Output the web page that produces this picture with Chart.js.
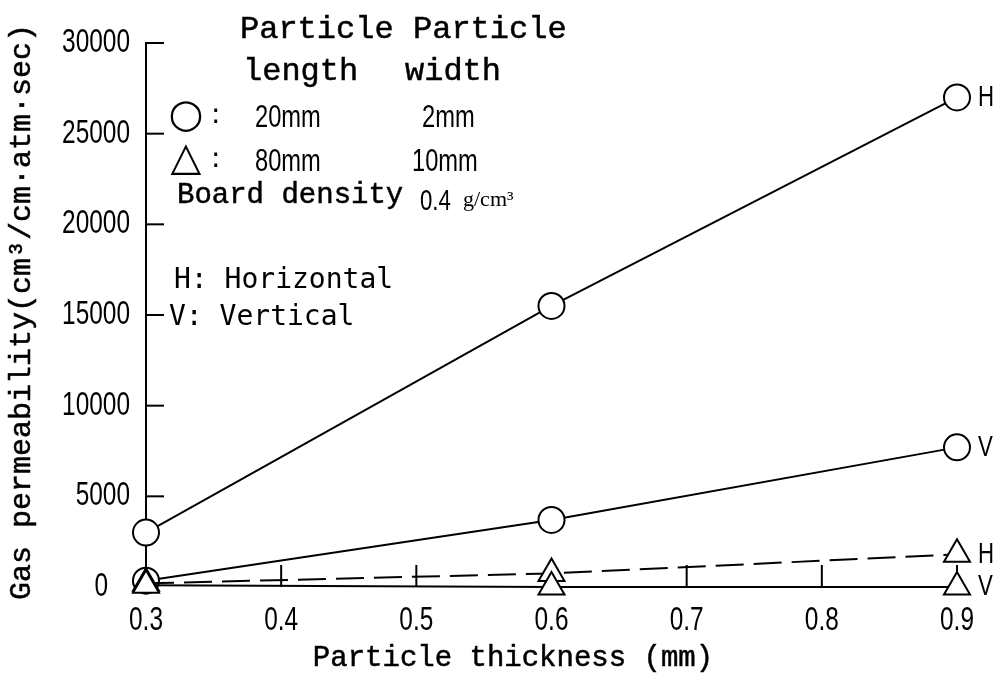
<!DOCTYPE html>
<html>
<head>
<meta charset="utf-8">
<script src="https://cdn.jsdelivr.net/npm/chart.js@4"></script>
<style>
  html, body { margin: 0; padding: 0; background: #fff; }
  #wrap { width: 1000px; height: 680px; position: relative; }
</style>
</head>
<body>
<div id="wrap"><canvas id="permChart"></canvas></div>
<script>
// values
const thickness = [0.3, 0.6, 0.9];
const circleH = [3000, 15500, 27000];
const circleV = [350, 3700, 7700];
const triangleH = [200, 750, 1800];
const triangleV = [100, 0, 0];
const endLabels = ['H', 'V', 'H', 'V'];

const mono = "'Liberation Mono', monospace";

function pts(ys) {
    return thickness.map((x, i) => ({ x: x, y: ys[i] }));
}

function text(ctx, str, x, y, font, align, weight) {
    ctx.font = font;
    ctx.textAlign = align || 'left';
    ctx.textBaseline = 'middle';
    ctx.fillText(str, x, y);
    if (weight) {
        // a little heavier than the regular face, like the scanned type
        ctx.lineWidth = weight;
        ctx.strokeStyle = '#000';
        ctx.strokeText(str, x, y);
    }
}

// tall narrow digits like the original typesetting
function narrowText(ctx, str, x, y, size, align, sx) {
    sx = sx || 0.74;
    ctx.save();
    ctx.translate(x, y);
    ctx.scale(sx, 1);
    text(ctx, str, 0, 0, size + 'px Liberation Sans', align);
    ctx.restore();
}

const figurePlugin = {
    id: 'figure',
    beforeDatasetsDraw(chart) {
        // inward tick marks
        const ctx = chart.ctx;
        const xs = chart.scales.x, ys = chart.scales.y;
        ctx.save();
        ctx.strokeStyle = '#000';
        ctx.lineWidth = 2;
        ys.ticks.forEach(t => {
            if (t.value === 0) return;
            const py = ys.getPixelForValue(t.value);
            ctx.beginPath();
            ctx.moveTo(xs.left, py);
            ctx.lineTo(xs.left + 18, py);
            ctx.stroke();
        });
        xs.ticks.forEach(t => {
            const px = xs.getPixelForValue(t.value);
            if (Math.abs(px - xs.left) < 2) return;
            ctx.beginPath();
            ctx.moveTo(px, ys.bottom);
            ctx.lineTo(px, ys.bottom - 22);
            ctx.stroke();
        });
        ctx.restore();
    },
    afterDraw(chart) {
        const ctx = chart.ctx;
        const xs = chart.scales.x, ys = chart.scales.y;
        ctx.save();
        ctx.fillStyle = '#000';

        // tick labels from the scales
        ys.ticks.forEach(t => {
            const right = t.value === 0 ? xs.left - 38 : xs.left - 16;
            narrowText(ctx, String(t.value), right, ys.getPixelForValue(t.value), 33, 'right');
        });
        xs.ticks.forEach(t => {
            narrowText(ctx, t.value.toFixed(1), xs.getPixelForValue(t.value), 621, 33, 'center');
        });

        // end-of-line labels
        chart.data.datasets.forEach((ds, i) => {
            const last = ds.data[ds.data.length - 1];
            narrowText(ctx, endLabels[i], xs.getPixelForValue(last.x) + 21,
                ys.getPixelForValue(last.y), 30);
        });

        // note block
        text(ctx, 'Particle', 240, 30, '32px ' + mono, 'left', 0.5);
        text(ctx, 'Particle', 413, 30, '32px ' + mono, 'left', 0.5);
        text(ctx, 'length', 243, 72, '32px ' + mono, 'left', 0.5);
        text(ctx, 'width', 405, 72, '32px ' + mono, 'left', 0.5);
        text(ctx, '\u25CB', 186, 117, '40px DejaVu Sans', 'center');
        text(ctx, ':', 211, 116, '28px DejaVu Sans');
        narrowText(ctx, '20mm', 255, 118, 32);
        narrowText(ctx, '2mm', 422, 118, 32);
        text(ctx, '\u25B3', 186, 160, '40px DejaVu Sans', 'center');
        text(ctx, ':', 211, 160, '28px DejaVu Sans');
        narrowText(ctx, '80mm', 255, 162, 32);
        narrowText(ctx, '10mm', 412, 162, 32);
        text(ctx, 'Board density', 177, 195, '29px ' + mono, 'left', 0.5);
        narrowText(ctx, '0.4', 420, 202, 30);
        text(ctx, 'g/cm\u00B3', 463, 200, '22px Liberation Serif');
        text(ctx, 'H: Horizontal', 174, 281, '28px DejaVu Sans Mono');
        text(ctx, 'V: Vertical', 169, 318, '28px DejaVu Sans Mono');

        // axis titles
        text(ctx, 'Particle thickness (mm)', 513, 658, '29px ' + mono, 'center', 0.5);
        ctx.translate(22, 312);
        ctx.rotate(-Math.PI / 2);
        text(ctx, 'Gas permeability(cm\u00B3/cm\u00B7atm\u00B7sec)', 0, 0, '30px ' + mono, 'center', 0.5);
        ctx.restore();
    }
};

function series(values, style, radius, dash, order) {
    return {
        data: pts(values),
        order: order,
        borderColor: '#000',
        borderWidth: 2,
        borderDash: dash,
        pointStyle: style,
        pointRadius: radius,
        pointBackgroundColor: '#fff',
        pointBorderColor: '#000',
        pointBorderWidth: 2,
        tension: 0,
        clip: false
    };
}

const permctx = document.getElementById('permChart').getContext('2d');
const permChart = new Chart(permctx, {
    type: 'line',
    data: {
        datasets: [
            series(circleH, 'circle', 13, [], 2),
            series(circleV, 'circle', 13, [], 2),
            series(triangleH, 'triangle', 15, [28, 10], 1),
            series(triangleV, 'triangle', 15, [], 0)
        ]
    },
    options: {
        responsive: true,
        maintainAspectRatio: false,
        animation: false,
        layout: { padding: { top: 43, right: 43, left: 0, bottom: 0 } },
        plugins: { legend: { display: false }, tooltip: { enabled: false } },
        scales: {
            x: {
                type: 'linear',
                min: 0.3,
                max: 0.9,
                afterFit: s => { s.height = 93; },
                grid: { display: false, drawTicks: false, tickLength: 0 },
                border: { display: false },
                ticks: { display: false, stepSize: 0.1 }
            },
            y: {
                min: 0,
                max: 30000,
                afterFit: s => { s.width = 146; },
                grid: { display: false, drawTicks: false, tickLength: 0 },
                border: { display: true, color: '#000', width: 2 },
                ticks: { display: false, stepSize: 5000 }
            }
        }
    },
    plugins: [figurePlugin]
});
</script>
</body>
</html>
